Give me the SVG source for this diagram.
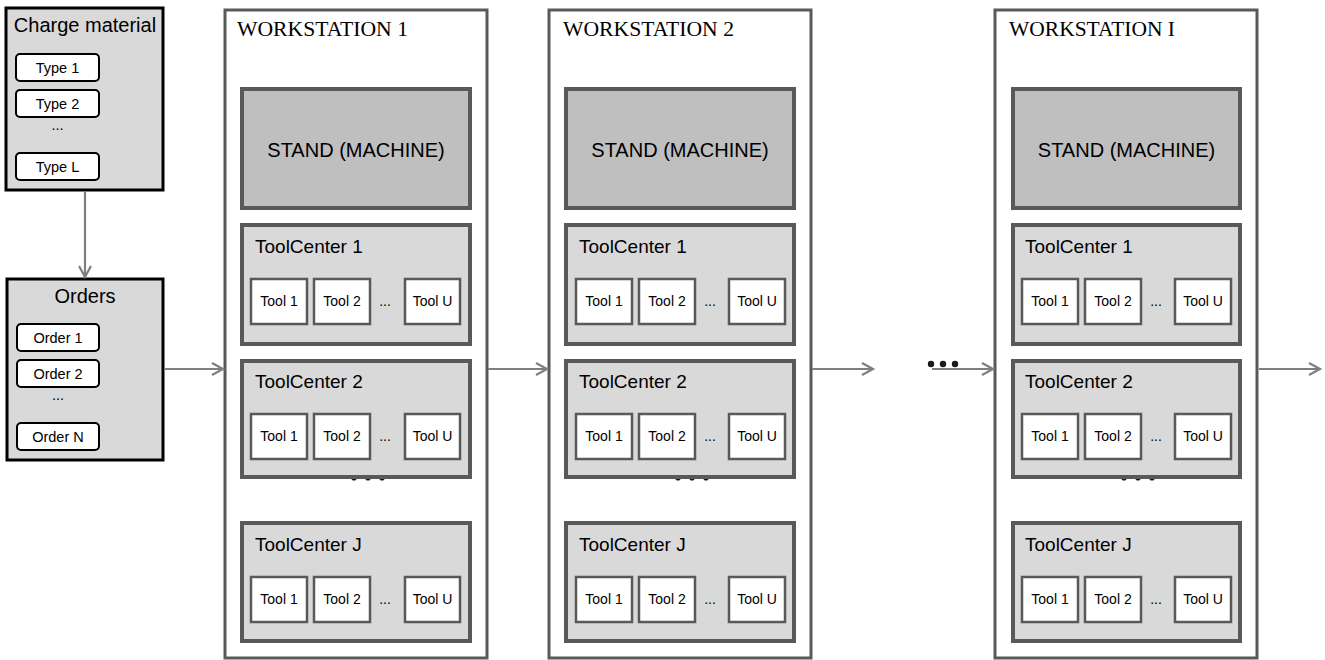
<svg xmlns="http://www.w3.org/2000/svg" width="1325" height="660" viewBox="0 0 1325 660">
<style>
.sans{font-family:"Liberation Sans",Arial,sans-serif;fill:#000}
.serif{font-family:"Liberation Serif","Times New Roman",serif;fill:#000}
.panel{fill:#d9d9d9;stroke:#000;stroke-width:3}
.item{fill:#fff;stroke:#000;stroke-width:2}
.ws{fill:#fff;stroke:#595959;stroke-width:3}
.stand{fill:#bfbfbf;stroke:#595959;stroke-width:4}
.tc{fill:#d9d9d9;stroke:#595959;stroke-width:4}
.tool{fill:#fff;stroke:#595959;stroke-width:2.5}
.conn{stroke:#7f7f7f;stroke-width:2.2;fill:none}
.dot{fill:#1a1a1a}
.t20{font-size:20px}
.t19{font-size:19px}
.t14{font-size:14.5px}
.t13{font-size:14px}
</style>
<defs>
<marker id="arr" markerUnits="userSpaceOnUse" markerWidth="16" markerHeight="16" refX="12" refY="7" orient="auto">
<path d="M1,1 L12,7 L1,13" fill="none" stroke="#7f7f7f" stroke-width="2.2"/>
</marker>
</defs>

<g id="charge-material">
<rect class="panel" x="6" y="8" width="157" height="182"/>
<text class="sans t20" x="85" y="32" text-anchor="middle">Charge material</text>
<rect class="item" x="16" y="54" width="83" height="27" rx="4"/>
<text class="sans t14" x="57.5" y="72.5" text-anchor="middle">Type 1</text>
<rect class="item" x="16" y="90" width="83" height="27" rx="4"/>
<text class="sans t14" x="57.5" y="108.5" text-anchor="middle">Type 2</text>
<text class="sans t14" x="57.5" y="130" text-anchor="middle">...</text>
<rect class="item" x="16" y="153" width="83" height="27" rx="4"/>
<text class="sans t14" x="57.5" y="171.5" text-anchor="middle">Type L</text>
</g>

<g id="orders">
<rect class="panel" x="7" y="279" width="156" height="181"/>
<text class="sans t20" x="85" y="303" text-anchor="middle">Orders</text>
<rect class="item" x="17" y="324" width="82" height="27" rx="4"/>
<text class="sans t14" x="58" y="342.5" text-anchor="middle">Order 1</text>
<rect class="item" x="17" y="360" width="82" height="27" rx="4"/>
<text class="sans t14" x="58" y="378.5" text-anchor="middle">Order 2</text>
<text class="sans t14" x="58" y="400" text-anchor="middle">...</text>
<rect class="item" x="17" y="423" width="82" height="27" rx="4"/>
<text class="sans t14" x="58" y="441.5" text-anchor="middle">Order N</text>
</g>

<g id="workstation-1">
<rect class="ws" x="225" y="10" width="262" height="648"/>
<text class="serif t20" x="237" y="36" textLength="171" lengthAdjust="spacingAndGlyphs">WORKSTATION 1</text>
<rect class="stand" x="242" y="89" width="228" height="119"/>
<text class="sans t20" x="356" y="157" text-anchor="middle">STAND (MACHINE)</text>
<g id="ws1-tc1">
<rect class="tc" x="242" y="225" width="228" height="119"/>
<text class="sans t19" x="255" y="253">ToolCenter 1</text>
<rect class="tool" x="251" y="279" width="56" height="45"/><text class="sans t13" x="279" y="306" text-anchor="middle">Tool 1</text>
<rect class="tool" x="314" y="279" width="56" height="45"/><text class="sans t13" x="342" y="306" text-anchor="middle">Tool 2</text>
<text class="sans t13" x="385" y="306" text-anchor="middle">...</text>
<rect class="tool" x="405" y="279" width="55" height="45"/><text class="sans t13" x="432.5" y="306" text-anchor="middle">Tool U</text>
</g>
<circle class="dot" cx="354" cy="478" r="2.6"/><circle class="dot" cx="368" cy="478" r="2.6"/><circle class="dot" cx="382" cy="478" r="2.6"/>
<g id="ws1-tc2">
<rect class="tc" x="242" y="361" width="228" height="116"/>
<text class="sans t19" x="255" y="388">ToolCenter 2</text>
<rect class="tool" x="251" y="414" width="56" height="45"/><text class="sans t13" x="279" y="441" text-anchor="middle">Tool 1</text>
<rect class="tool" x="314" y="414" width="56" height="45"/><text class="sans t13" x="342" y="441" text-anchor="middle">Tool 2</text>
<text class="sans t13" x="385" y="441" text-anchor="middle">...</text>
<rect class="tool" x="405" y="414" width="55" height="45"/><text class="sans t13" x="432.5" y="441" text-anchor="middle">Tool U</text>
</g>
<g id="ws1-tcj">
<rect class="tc" x="242" y="523" width="228" height="118"/>
<text class="sans t19" x="255" y="551">ToolCenter J</text>
<rect class="tool" x="251" y="577" width="56" height="45"/><text class="sans t13" x="279" y="604" text-anchor="middle">Tool 1</text>
<rect class="tool" x="314" y="577" width="56" height="45"/><text class="sans t13" x="342" y="604" text-anchor="middle">Tool 2</text>
<text class="sans t13" x="385" y="604" text-anchor="middle">...</text>
<rect class="tool" x="405" y="577" width="55" height="45"/><text class="sans t13" x="432.5" y="604" text-anchor="middle">Tool U</text>
</g>
</g>

<g id="workstation-2">
<rect class="ws" x="549" y="10" width="262" height="648"/>
<text class="serif t20" x="563" y="36" textLength="171" lengthAdjust="spacingAndGlyphs">WORKSTATION 2</text>
<rect class="stand" x="566" y="89" width="228" height="119"/>
<text class="sans t20" x="680" y="157" text-anchor="middle">STAND (MACHINE)</text>
<g id="ws2-tc1">
<rect class="tc" x="566" y="225" width="228" height="119"/>
<text class="sans t19" x="579" y="253">ToolCenter 1</text>
<rect class="tool" x="576" y="279" width="56" height="45"/><text class="sans t13" x="604" y="306" text-anchor="middle">Tool 1</text>
<rect class="tool" x="639" y="279" width="56" height="45"/><text class="sans t13" x="667" y="306" text-anchor="middle">Tool 2</text>
<text class="sans t13" x="710" y="306" text-anchor="middle">...</text>
<rect class="tool" x="729" y="279" width="56" height="45"/><text class="sans t13" x="757" y="306" text-anchor="middle">Tool U</text>
</g>
<circle class="dot" cx="678" cy="478" r="2.6"/><circle class="dot" cx="692" cy="478" r="2.6"/><circle class="dot" cx="706" cy="478" r="2.6"/>
<g id="ws2-tc2">
<rect class="tc" x="566" y="361" width="228" height="116"/>
<text class="sans t19" x="579" y="388">ToolCenter 2</text>
<rect class="tool" x="576" y="414" width="56" height="45"/><text class="sans t13" x="604" y="441" text-anchor="middle">Tool 1</text>
<rect class="tool" x="639" y="414" width="56" height="45"/><text class="sans t13" x="667" y="441" text-anchor="middle">Tool 2</text>
<text class="sans t13" x="710" y="441" text-anchor="middle">...</text>
<rect class="tool" x="729" y="414" width="56" height="45"/><text class="sans t13" x="757" y="441" text-anchor="middle">Tool U</text>
</g>
<g id="ws2-tcj">
<rect class="tc" x="566" y="523" width="228" height="118"/>
<text class="sans t19" x="579" y="551">ToolCenter J</text>
<rect class="tool" x="576" y="577" width="56" height="45"/><text class="sans t13" x="604" y="604" text-anchor="middle">Tool 1</text>
<rect class="tool" x="639" y="577" width="56" height="45"/><text class="sans t13" x="667" y="604" text-anchor="middle">Tool 2</text>
<text class="sans t13" x="710" y="604" text-anchor="middle">...</text>
<rect class="tool" x="729" y="577" width="56" height="45"/><text class="sans t13" x="757" y="604" text-anchor="middle">Tool U</text>
</g>
</g>

<g id="workstation-i">
<rect class="ws" x="995" y="10" width="262" height="648"/>
<text class="serif t20" x="1009" y="36" textLength="166" lengthAdjust="spacingAndGlyphs">WORKSTATION I</text>
<rect class="stand" x="1013" y="89" width="227" height="119"/>
<text class="sans t20" x="1126.5" y="157" text-anchor="middle">STAND (MACHINE)</text>
<g id="wsi-tc1">
<rect class="tc" x="1013" y="225" width="227" height="119"/>
<text class="sans t19" x="1025" y="253">ToolCenter 1</text>
<rect class="tool" x="1022" y="279" width="56" height="45"/><text class="sans t13" x="1050" y="306" text-anchor="middle">Tool 1</text>
<rect class="tool" x="1085" y="279" width="56" height="45"/><text class="sans t13" x="1113" y="306" text-anchor="middle">Tool 2</text>
<text class="sans t13" x="1156" y="306" text-anchor="middle">...</text>
<rect class="tool" x="1175" y="279" width="56" height="45"/><text class="sans t13" x="1203" y="306" text-anchor="middle">Tool U</text>
</g>
<circle class="dot" cx="1124" cy="478" r="2.6"/><circle class="dot" cx="1138" cy="478" r="2.6"/><circle class="dot" cx="1152" cy="478" r="2.6"/>
<g id="wsi-tc2">
<rect class="tc" x="1013" y="361" width="227" height="116"/>
<text class="sans t19" x="1025" y="388">ToolCenter 2</text>
<rect class="tool" x="1022" y="414" width="56" height="45"/><text class="sans t13" x="1050" y="441" text-anchor="middle">Tool 1</text>
<rect class="tool" x="1085" y="414" width="56" height="45"/><text class="sans t13" x="1113" y="441" text-anchor="middle">Tool 2</text>
<text class="sans t13" x="1156" y="441" text-anchor="middle">...</text>
<rect class="tool" x="1175" y="414" width="56" height="45"/><text class="sans t13" x="1203" y="441" text-anchor="middle">Tool U</text>
</g>
<g id="wsi-tcj">
<rect class="tc" x="1013" y="523" width="227" height="118"/>
<text class="sans t19" x="1025" y="551">ToolCenter J</text>
<rect class="tool" x="1022" y="577" width="56" height="45"/><text class="sans t13" x="1050" y="604" text-anchor="middle">Tool 1</text>
<rect class="tool" x="1085" y="577" width="56" height="45"/><text class="sans t13" x="1113" y="604" text-anchor="middle">Tool 2</text>
<text class="sans t13" x="1156" y="604" text-anchor="middle">...</text>
<rect class="tool" x="1175" y="577" width="56" height="45"/><text class="sans t13" x="1203" y="604" text-anchor="middle">Tool U</text>
</g>
</g>

<g id="connectors">
<line class="conn" x1="85" y1="191" x2="85" y2="277" marker-end="url(#arr)"/>
<line class="conn" x1="164" y1="369" x2="223" y2="369" marker-end="url(#arr)"/>
<line class="conn" x1="488" y1="369" x2="547" y2="369" marker-end="url(#arr)"/>
<line class="conn" x1="812" y1="369" x2="873" y2="369" marker-end="url(#arr)"/>
<line class="conn" x1="932" y1="369" x2="993" y2="369" marker-end="url(#arr)"/>
<line class="conn" x1="1259" y1="369" x2="1320" y2="369" marker-end="url(#arr)"/>
<circle class="dot" cx="931" cy="364" r="3.2"/><circle class="dot" cx="943" cy="364" r="3.2"/><circle class="dot" cx="955" cy="364" r="3.2"/>
</g>
</svg>
